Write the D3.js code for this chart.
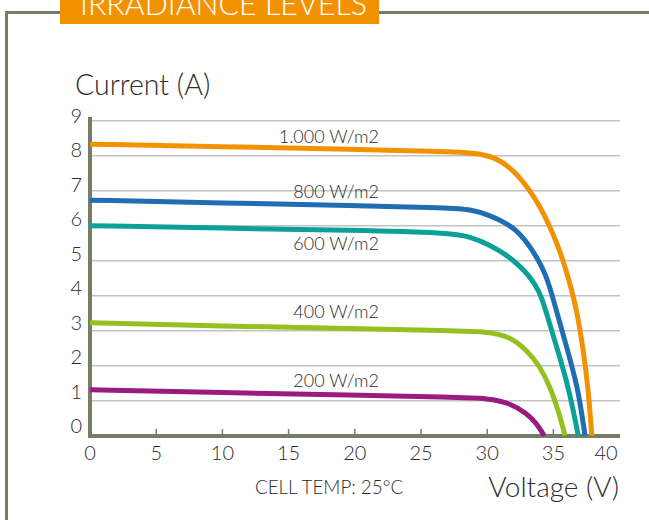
<!DOCTYPE html>
<html><head><meta charset="utf-8">
<script src="https://cdn.jsdelivr.net/npm/d3@7"></script>
<style>
html,body{margin:0;padding:0;background:#fff;}
svg text{font-family:"Lato","Open Sans",sans-serif;font-weight:300;fill:#2b2b2b;}
</style></head>
<body><svg id="c" width="649" height="520"></svg>
<script>
const title = "IRRADIANCE LEVELS";
const yTicks = [0,1,2,3,4,5,6,7,8,9];
const xTicks = [0,5,10,15,20,25,30,35,40];
const seriesNames = ["1.000 W/m2","800 W/m2","600 W/m2","400 W/m2","200 W/m2"];
const seriesColors = ["#f39200","#1f6db3","#0ca198","#95c11f","#9a1b80"];
const labelCurrent = [8.53,6.97,5.48,3.53,1.56];
const v1000 = [0,10,20,27.2,29.5,31,32.2,33.2,34,34.74,35.37,35.88,36.38,36.76,37.26,37.64,37.9];
const i1000 = [8.33,8.26,8.18,8.12,8.07,7.88,7.5,7.02,6.54,5.97,5.4,4.83,4.16,3.59,2.45,1.31,0];
const v800 = [0,10,20,27.2,28.7,30.2,31.47,32.48,33.23,33.86,34.37,34.8,35.5,36.2,36.88,37.39];
const i800 = [6.73,6.65,6.58,6.51,6.47,6.3,6.07,5.78,5.4,5.02,4.64,4.16,3.21,2.26,1.31,0];
const v600 = [0,10,20,27.2,28.7,30.2,31.47,31.97,32.5,33.03,33.6,34.1,34.87,35.6,36.25,36.88];
const i600 = [6.0,5.93,5.87,5.8,5.69,5.45,5.16,5.0,4.83,4.62,4.33,4.0,3.0,2.1,1.2,0];
const v400 = [0,10,20,27.2,30.2,31.7,32.98,34.0,34.74,35.37,35.88];
const i400 = [3.23,3.13,3.06,3.0,2.97,2.83,2.45,1.97,1.4,0.73,0];
const v200 = [0,10,20,27.2,30.2,31.7,32.98,33.74,34.3];
const i200 = [1.31,1.23,1.16,1.1,1.07,0.93,0.64,0.35,0];
const seriesV = [v1000,v800,v600,v400,v200];
const seriesI = [i1000,i800,i600,i400,i200];

const svg = d3.select("#c");
const frameColor = "#747e66";

// frame
svg.append("path").attr("d","M6.5,520 L6.5,12.5 L649,12.5")
  .attr("fill","none").attr("stroke",frameColor).attr("stroke-width",3);
svg.append("rect").attr("x",60).attr("y",0).attr("width",319).attr("height",24).attr("fill","#f39200");
svg.append("text").attr("x",80).attr("y",15).attr("font-size",31)
  .attr("textLength",287).attr("lengthAdjust","spacingAndGlyphs")
  .style("fill","#fff").text(title);

const x = d3.scaleLinear().domain([0,40]).range([90,619.6]);
const y = d3.scaleLinear().domain([0,9]).range([435.7,120.7]);

// gridlines
svg.append("g").selectAll("line").data(yTicks.filter(d=>d>0)).join("line")
  .attr("x1",92).attr("x2",620).attr("y1",d=>y(d)).attr("y2",d=>y(d))
  .attr("stroke","#c2c2c2").attr("stroke-width",1.5);

// axes lines
svg.append("line").attr("x1",90).attr("x2",90).attr("y1",117).attr("y2",438)
  .attr("stroke",frameColor).attr("stroke-width",4);
svg.append("line").attr("x1",88).attr("x2",620).attr("y1",436).attr("y2",436)
  .attr("stroke",frameColor).attr("stroke-width",4);
// x ticks
svg.append("g").selectAll("line").data(xTicks.filter(d=>d>0&&d<40)).join("line")
  .attr("x1",d=>x(d)).attr("x2",d=>x(d)).attr("y1",434).attr("y2",429)
  .attr("stroke",frameColor).attr("stroke-width",1.5);

// tick labels
svg.append("g").selectAll("text").data(yTicks).join("text")
  .attr("x",82).attr("y",d=>y(d)-5 + (9-d)*(-0.5)).attr("dy","0.35em")
  .attr("text-anchor","end").attr("font-size",20).text(d=>d);
svg.append("g").selectAll("text").data(xTicks).join("text")
  .attr("x",d=>d===40 ? x(d)-2 : x(d)).attr("y",453).attr("dy","0.35em")
  .attr("text-anchor",d=>d===40?"end":"middle").attr("font-size",20).text(d=>d);

// axis titles
svg.append("text").attr("x",75).attr("y",85).attr("dy","0.35em").attr("font-size",28.5).text("Current (A)");
svg.append("text").attr("x",619).attr("y",487).attr("dy","0.35em").attr("text-anchor","end").attr("font-size",28).text("Voltage (V)");
svg.append("text").attr("x",255).attr("y",487).attr("dy","0.35em").attr("font-size",18.8).text("CELL TEMP: 25°C");

// curves
const line = d3.line().x(d=>x(d[0])).y(d=>y(d[1])).curve(d3.curveBasis);
seriesV.forEach((vs,k)=>{
  const pts = vs.map((v,j)=>[v,seriesI[k][j]]);
  svg.append("path").datum(pts).attr("d",line).attr("fill","none")
    .attr("stroke",seriesColors[k]).attr("stroke-width",5);
});

// curve labels
svg.append("g").selectAll("text").data(seriesNames).join("text")
  .attr("x",379).attr("y",(d,k)=>y(labelCurrent[k])).attr("dy","0.35em")
  .attr("text-anchor","end").attr("font-size",18).text(d=>d);
</script></body></html>
